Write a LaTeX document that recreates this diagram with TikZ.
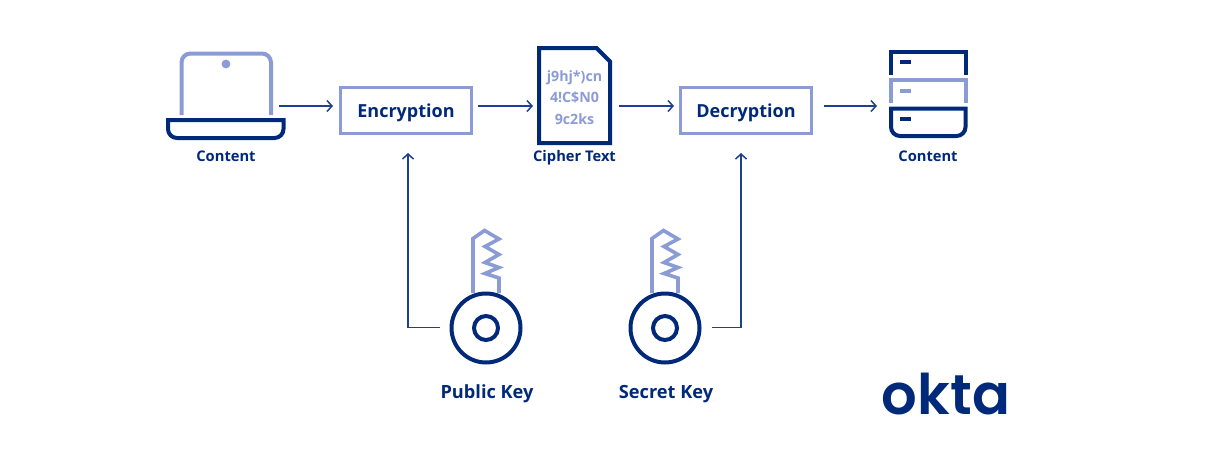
\documentclass[tikz,border=0pt]{standalone}
\usepackage{fontspec}
\setmainfont{Open Sans}
\newfontfamily\logofont{Poppins}[UprightFont=* SemiBold]
\usetikzlibrary{arrows.meta}
\definecolor{oktadark}{HTML}{00297A}
\definecolor{oktalight}{HTML}{8A9BD6}
\definecolor{oktaline}{HTML}{1F3F8F}
\tikzset{
  px/.style={x=1pt,y=-1pt},
  darkline/.style={draw=oktadark,line width=4pt},
  lightline/.style={draw=oktalight,line width=4pt},
  flow/.style={draw=oktaline,line width=1.5pt,-{Straight Barb[length=5pt,width=11pt,line width=1.5pt]}},
  boxlabel/.style={draw=oktalight,line width=3.6pt,fill=white,text=oktadark,font=\fontsize{18}{20}\selectfont\bfseries,minimum width=131pt,minimum height=46pt,inner sep=0pt,text height=13pt,text depth=0pt},
  caption/.style={anchor=base,text=oktadark,font=\fontsize{14.7}{16}\selectfont\bfseries,inner sep=0pt},
  keycaption/.style={anchor=base,text=oktadark,font=\fontsize{18.2}{20}\selectfont\bfseries,inner sep=0pt},
  cipher/.style={anchor=base,text=oktalight,font=\fontsize{14.2}{16}\selectfont\bfseries,inner sep=0pt},
  keyring/.style={draw=oktadark,line width=4pt,circle,inner sep=0pt},
  keyblade/.style={draw=oktalight,line width=3.6pt,line join=miter},
}
\begin{document}
\begin{tikzpicture}[px]
\useasboundingbox (0,0) rectangle (1230,464);
% laptop
\draw[lightline,rounded corners=9pt] (181.5,115) -- (181.5,53.5) -- (271,53.5) -- (271,115);
\fill[oktalight] (226,64) circle (4.4);
\draw[darkline] (168,120) -- (283.5,120) [rounded corners=9pt] -- (283.5,138) -- (168,138) [sharp corners] -- cycle;
\node[caption] (c1) at (226,161) {Content};
% boxes
\node[boxlabel] (enc) at (406,110.5) {Encryption};
\node[boxlabel] (dec) at (746,110.5) {Decryption};
% document
\draw[darkline,line join=miter] (539,48) -- (596.5,48) -- (610,61.5) -- (610,143) -- (539,143) -- cycle;
\node[cipher] (t1) at (574.5,81) {j9hj*)cn};
\node[cipher] (t2) at (574.5,102) {4!C\$N0};
\node[cipher] (t3) at (574.5,124) {9c2ks};
\node[caption] (c2) at (574.5,161) {Cipher Text};
% server
\draw[darkline,line join=miter] (891,75) -- (891,51.5) -- (965.5,51.5) -- (965.5,75);
\draw[darkline] (900,62) -- (911,62);
\draw[lightline,line join=miter] (891,102.5) -- (891,79.5) -- (965.5,79.5) -- (965.5,102.5);
\draw[lightline] (900,90.5) -- (911,90.5);
\draw[darkline] (891,108.5) -- (965.5,108.5) [rounded corners=9pt] -- (965.5,136) -- (891,136) [sharp corners] -- cycle;
\draw[darkline] (900,118.5) -- (911,118.5);
\node[caption] (c3) at (928,161) {Content};
% public key
\draw[keyblade] (473,293) -- (473,238.5) -- (484.5,230.5) -- (499,239) -- (485,246.5) -- (499,254.5) -- (485,262.5) -- (499,267.5) -- (485,273.5) -- (499,278) -- (499,293);
\node[keyring,minimum size=69pt,fill=white] (pk) at (486,328) {};
\node[keyring,minimum size=24pt] (pki) at (486,328) {};
\node[keycaption] (c4) at (487,398) {Public Key};
% secret key
\draw[keyblade] (652,293) -- (652,238.5) -- (663.5,230.5) -- (678,239) -- (664,246.5) -- (678,254.5) -- (664,262.5) -- (678,267.5) -- (664,273.5) -- (678,278) -- (678,293);
\node[keyring,minimum size=69pt,fill=white] (sk) at (665,328) {};
\node[keyring,minimum size=24pt] (ski) at (665,328) {};
\node[keycaption] (c5) at (666,398) {Secret Key};
% logo
\node[anchor=base,text=oktadark,font=\logofont\fontsize{56}{58}\selectfont,inner sep=0pt] (logo) at (946,414) {okta};
% connector ends
\coordinate (laptopOut) at (279,106);
\coordinate (encIn) at (333,106);
\coordinate (encOut) at (478,106);
\coordinate (docIn) at (533,106);
\coordinate (docOut) at (619,106);
\coordinate (decIn) at (674,106);
\coordinate (decOut) at (824,106);
\coordinate (srvIn) at (877,106);
\coordinate (pkOut) at (440,327.5);
\coordinate (skOut) at (712,327.5);
\coordinate (encUp) at (408,153);
\coordinate (decUp) at (741,153);
\draw[flow] (laptopOut) -- (encIn);
\draw[flow] (encOut) -- (docIn);
\draw[flow] (docOut) -- (decIn);
\draw[flow] (decOut) -- (srvIn);
\draw[flow] (pkOut) -| (encUp);
\draw[flow] (skOut) -| (decUp);
\end{tikzpicture}
\end{document}
